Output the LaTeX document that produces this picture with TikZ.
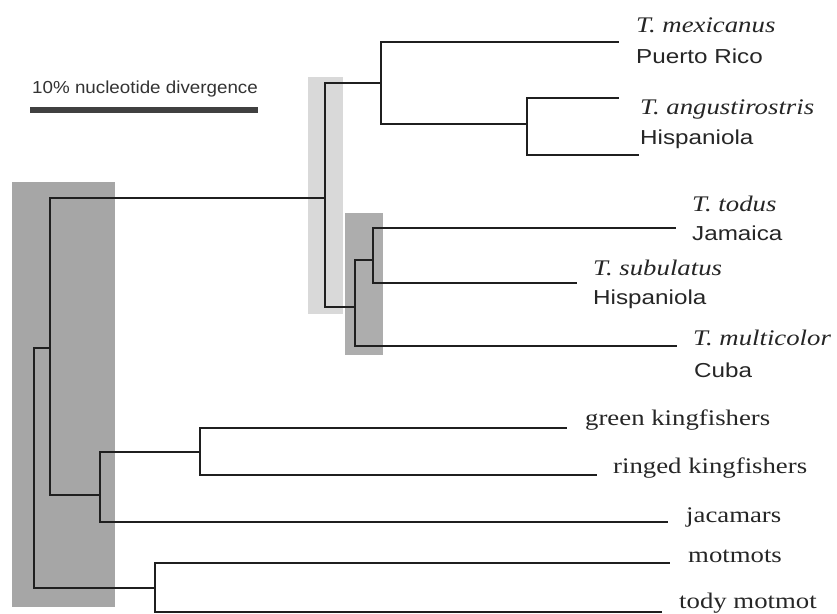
\documentclass[tikz,border=0pt]{standalone}
\usepackage{fontspec}
\newfontfamily\serifS[FakeStretch=1.2]{Liberation Serif}
\newfontfamily\sansS[FakeStretch=1.2]{Liberation Sans}
\newfontfamily\sansB[FakeStretch=1.08]{Liberation Sans}
\newcommand\lblit{\fontsize{22.3bp}{26bp}\selectfont\serifS\itshape}
\newcommand\lblrm{\fontsize{22.3bp}{26bp}\selectfont\serifS}
\newcommand\lblsf{\fontsize{20.2bp}{24bp}\selectfont\sansS}
\newcommand\lblbar{\fontsize{17.4bp}{20bp}\selectfont\sansB}
\definecolor{boxdark}{gray}{0.65}
\definecolor{boxlight}{gray}{0.85}
\definecolor{boxmid}{gray}{0.68}
\definecolor{treeline}{gray}{0.12}
\tikzset{
  branch/.style={draw=treeline, line width=1.7bp},
  taxit/.style={anchor=base west, inner sep=0pt, font=\lblit, text=black!85},
  taxrm/.style={anchor=base west, inner sep=0pt, font=\lblrm, text=black!85},
  place/.style={anchor=base west, inner sep=0pt, font=\lblsf, text=black!85},
}
\begin{document}
\begin{tikzpicture}[x=1bp, y=-1bp]
\useasboundingbox[fill=white] (0,0) rectangle (837,614);
% shaded boxes
\fill[boxdark] (12,182) rectangle (115,607);
\fill[boxlight] (308,77) rectangle (343,314);
\fill[boxmid] (345,213) rectangle (383,355);
% scale bar
\node[anchor=base west, inner sep=0pt, font=\lblbar, text=black!80] (barlbl) at (32,94) {10\% nucleotide divergence};
\coordinate (barL) at (30,110);
\coordinate (barR) at (258,110);
\draw[line width=6bp, black!75] (barL) -- (barR);
% internal nodes
\coordinate (r) at (34,468);
\coordinate (a) at (50,348);
\coordinate (t) at (325,198);
\coordinate (t1) at (381,83);
\coordinate (t1b) at (527,124);
\coordinate (t2) at (355,307);
\coordinate (t2a) at (373,260);
\coordinate (kj) at (100,495);
\coordinate (kf) at (200,452);
\coordinate (mo) at (155,588);
% tips
\coordinate (mex) at (619,42);
\coordinate (ang1) at (619,98);
\coordinate (ang2) at (639,155);
\coordinate (tod) at (676,228);
\coordinate (sub) at (577,283);
\coordinate (mul) at (677,346);
\coordinate (gk) at (567,428);
\coordinate (rk) at (597,475);
\coordinate (jac) at (668,522);
\coordinate (mot) at (670,563);
\coordinate (tody) at (662,612);
% branches
\draw[branch] (r) |- (a);
\draw[branch] (r) |- (mo);
\draw[branch] (a) |- (t);
\draw[branch] (a) |- (kj);
\draw[branch] (t) |- (t1);
\draw[branch] (t) |- (t2);
\draw[branch] (t1) |- (mex);
\draw[branch] (t1) |- (t1b);
\draw[branch] (t1b) |- (ang1);
\draw[branch] (t1b) |- (ang2);
\draw[branch] (t2) |- (t2a);
\draw[branch] (t2) |- (mul);
\draw[branch] (t2a) |- (tod);
\draw[branch] (t2a) |- (sub);
\draw[branch] (kj) |- (kf);
\draw[branch] (kj) |- (jac);
\draw[branch] (kf) |- (gk);
\draw[branch] (kf) |- (rk);
\draw[branch] (mo) |- (mot);
\draw[branch] (mo) |- (tody);
% labels
\node[taxit] (lmex) at (636,33) {T. mexicanus};
\node[place] (pmex) at (636,64) {Puerto Rico};
\node[taxit] (lang) at (640,115) {T. angustirostris};
\node[place] (pang) at (640,145) {Hispaniola};
\node[taxit] (ltod) at (692,212) {T. todus};
\node[place] (ptod) at (692,241) {Jamaica};
\node[taxit] (lsub) at (593,275) {T. subulatus};
\node[place] (psub) at (593,304) {Hispaniola};
\node[taxit] (lmul) at (693,345) {T. multicolor};
\node[place] (pmul) at (694,377) {Cuba};
\node[taxrm] (lgk) at (585,425) {green kingfishers};
\node[taxrm] (lrk) at (613,473) {ringed kingfishers};
\node[taxrm] (ljac) at (686,522) {jacamars};
\node[taxrm] (lmot) at (688,562) {motmots};
\node[taxrm] (ltody) at (679,608) {tody motmot};
\end{tikzpicture}
\end{document}
